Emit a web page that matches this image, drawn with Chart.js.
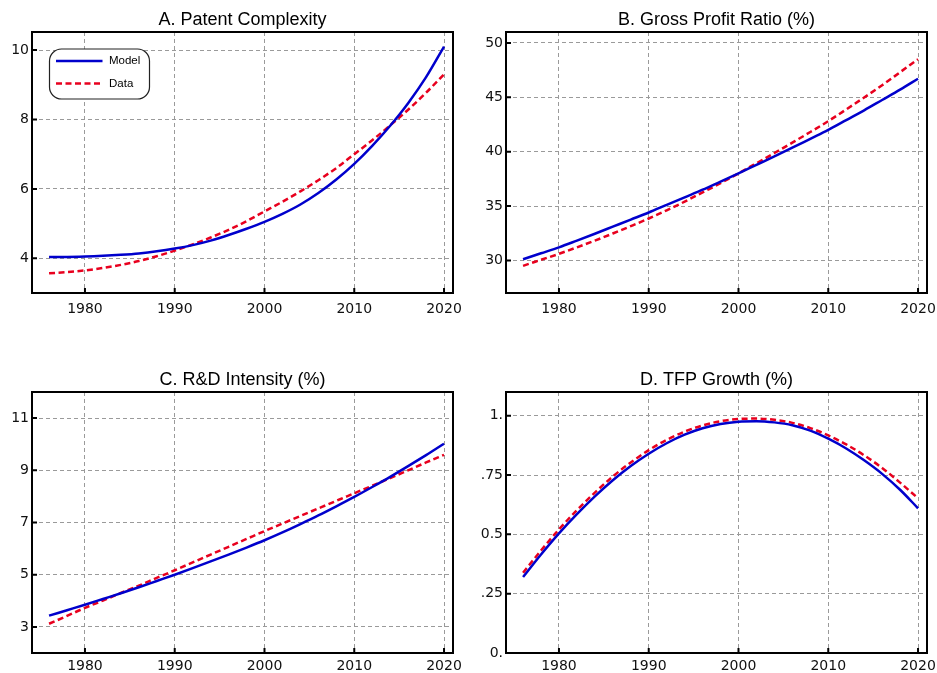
<!DOCTYPE html>
<html>
<head>
<meta charset="utf-8">
<script src="https://cdn.jsdelivr.net/npm/chart.js@4.4.1/dist/chart.umd.min.js"></script>
<style>
  html, body { margin: 0; padding: 0; background: #fff; }
  #wrap { position: relative; width: 937px; height: 673px; overflow: hidden; }
  canvas { position: absolute; }
</style>
</head>
<body>
<div id="wrap">
  <canvas id="cA" width="470" height="330" style="left:0;top:0"></canvas>
  <canvas id="cB" width="467" height="330" style="left:470px;top:0"></canvas>
  <canvas id="cC" width="470" height="313" style="left:0;top:360px"></canvas>
  <canvas id="cD" width="467" height="313" style="left:470px;top:360px"></canvas>
</div>
<script>
// ---- data ----
const years = [1976, 1978, 1980, 1982, 1984, 1986, 1988, 1990, 1992, 1994, 1996, 1998,
               2000, 2002, 2004, 2006, 2008, 2010, 2012, 2014, 2016, 2018, 2020];
const xTicks = [1980, 1990, 2000, 2010, 2020];

const patentModel = [4.04, 4.04, 4.05, 4.07, 4.10, 4.14, 4.20, 4.28, 4.38, 4.51, 4.67, 4.85,
                     5.05, 5.28, 5.55, 5.88, 6.27, 6.72, 7.24, 7.82, 8.47, 9.22, 10.1];
const patentData  = [3.57, 3.60, 3.65, 3.72, 3.81, 3.92, 4.06, 4.22, 4.40, 4.60, 4.82, 5.07,
                     5.35, 5.63, 5.93, 6.25, 6.60, 7.00, 7.40, 7.83, 8.28, 8.77, 9.30];

const profitModel = [30.1, 30.65, 31.2, 31.82, 32.45, 33.1, 33.75, 34.4, 35.1, 35.8, 36.5, 37.25,
                     38.0, 38.78, 39.56, 40.36, 41.18, 42.0, 42.9, 43.8, 44.75, 45.7, 46.7];
const profitData  = [29.5, 30.05, 30.6, 31.2, 31.82, 32.47, 33.15, 33.85, 34.6, 35.4, 36.25, 37.1,
                     38.0, 38.93, 39.87, 40.83, 41.8, 42.8, 43.88, 44.98, 46.1, 47.3, 48.5];

const rdModel = [3.43, 3.64, 3.85, 4.07, 4.29, 4.52, 4.76, 5.0, 5.25, 5.51, 5.77, 6.04,
                 6.32, 6.62, 6.94, 7.27, 7.62, 7.98, 8.36, 8.75, 9.16, 9.58, 10.02];
const rdData  = [3.12, 3.42, 3.73, 4.01, 4.30, 4.58, 4.88, 5.17, 5.47, 5.77, 6.07, 6.37,
                 6.67, 6.96, 7.25, 7.54, 7.83, 8.12, 8.41, 8.70, 9.00, 9.30, 9.59];

const tfpModel = [0.320, 0.415, 0.504, 0.585, 0.660, 0.728, 0.788, 0.840, 0.884, 0.920, 0.947, 0.965,
                  0.975, 0.977, 0.972, 0.960, 0.937, 0.903, 0.862, 0.812, 0.755, 0.688, 0.610];
const tfpData  = [0.338, 0.432, 0.521, 0.602, 0.676, 0.744, 0.803, 0.855, 0.898, 0.933, 0.959, 0.977,
                  0.986, 0.988, 0.983, 0.970, 0.948, 0.917, 0.879, 0.833, 0.780, 0.718, 0.652];

const yTicksA = [4, 6, 8, 10];
const yLabelsA = ['4', '6', '8', '10'];
const yTicksB = [30, 35, 40, 45, 50];
const yLabelsB = ['30', '35', '40', '45', '50'];
const yTicksC = [3, 5, 7, 9, 11];
const yLabelsC = ['3', '5', '7', '9', '11'];
const yTicksD = [0, 0.25, 0.5, 0.75, 1];
const yLabelsD = ['0.', '.25', '0.5', '.75', '1.'];

const BLUE = '#0000cc';
const RED = '#e8001e';

// titles, frame, inward ticks and the boxed legend
const panelDeco = {
    id: 'panelDeco',
    afterDraw(chart, args, opts) {
        const { ctx, chartArea: a, scales: { x, y } } = chart;
        ctx.save();

        ctx.strokeStyle = '#000';
        ctx.lineWidth = 2;
        ctx.beginPath();
        x.ticks.forEach(t => {
            const px = x.getPixelForValue(t.value);
            ctx.moveTo(px, a.bottom);
            ctx.lineTo(px, a.bottom - 5);
        });
        y.ticks.forEach(t => {
            const py = y.getPixelForValue(t.value);
            ctx.moveTo(a.left, py);
            ctx.lineTo(a.left + 5, py);
        });
        ctx.stroke();
        ctx.strokeRect(a.left, a.top, a.right - a.left, a.bottom - a.top);

        ctx.fillStyle = '#000';
        ctx.font = '18px "Liberation Sans", Arial, sans-serif';
        ctx.textAlign = 'center';
        ctx.textBaseline = 'middle';
        ctx.fillText(opts.title, (a.left + a.right) / 2, a.top - 11.5);

        if (opts.legend) {
            const bx = a.left + 17.5, by = a.top + 17, bw = 100, bh = 50, r = 12;
            ctx.beginPath();
            ctx.moveTo(bx + r, by);
            ctx.arcTo(bx + bw, by, bx + bw, by + bh, r);
            ctx.arcTo(bx + bw, by + bh, bx, by + bh, r);
            ctx.arcTo(bx, by + bh, bx, by, r);
            ctx.arcTo(bx, by, bx + bw, by, r);
            ctx.closePath();
            ctx.fillStyle = '#fff';
            ctx.fill();
            ctx.lineWidth = 1.2;
            ctx.strokeStyle = '#222';
            ctx.stroke();

            chart.data.datasets.forEach((ds, i) => {
                const ly = by + 12 + i * 22.5;
                ctx.beginPath();
                ctx.strokeStyle = ds.borderColor;
                ctx.lineWidth = ds.borderWidth;
                ctx.setLineDash(ds.borderDash || []);
                ctx.moveTo(bx + 6.5, ly);
                ctx.lineTo(bx + 53, ly);
                ctx.stroke();
                ctx.setLineDash([]);
                ctx.fillStyle = '#000';
                ctx.font = '11.5px "Liberation Sans", Arial, sans-serif';
                ctx.textAlign = 'left';
                ctx.fillText(ds.label, bx + 59.5, ly);
            });
        }
        ctx.restore();
    }
};

function makePanel(id, cfg) {
    const canvas = document.getElementById(id);
    const W = canvas.width, H = canvas.height;
    const area = cfg.area;
    return new Chart(canvas, {
        type: 'line',
        data: {
            labels: years,
            datasets: [
                {
                    label: 'Model',
                    data: years.map((yr, i) => ({ x: yr, y: cfg.model[i] })),
                    borderColor: BLUE,
                    borderWidth: 2.5,
                    pointRadius: 0,
                    cubicInterpolationMode: 'monotone'
                },
                {
                    label: 'Data',
                    data: years.map((yr, i) => ({ x: yr, y: cfg.data[i] })),
                    borderColor: RED,
                    borderWidth: 2.5,
                    borderDash: [6, 3.5],
                    pointRadius: 0,
                    cubicInterpolationMode: 'monotone'
                }
            ]
        },
        options: {
            responsive: false,
            animation: false,
            devicePixelRatio: 1,
            layout: { padding: { left: 0, top: area.top, right: W - area.right, bottom: 0 } },
            plugins: {
                legend: { display: false },
                tooltip: { enabled: false },
                panelDeco: { title: cfg.title, legend: cfg.legend }
            },
            scales: {
                x: {
                    type: 'linear',
                    min: 1974.1,
                    max: 2021,
                    afterBuildTicks: s => { s.ticks = xTicks.map(v => ({ value: v })); },
                    afterFit: s => {
                        s.height = H - area.bottom;
                        s.paddingLeft = 0;
                        s.paddingRight = 0;
                    },
                    grid: { color: '#9a9a9a', lineWidth: 1, drawTicks: false },
                    border: { display: false, dash: [4, 3] },
                    ticks: {
                        color: '#111',
                        padding: cfg.xPad,
                        maxRotation: 0,
                        autoSkip: false,
                        font: { family: 'DejaVu Sans', size: 14 },
                        callback: (v, i) => String(xTicks[i])
                    }
                },
                y: {
                    type: 'linear',
                    min: cfg.yMin,
                    max: cfg.yMax,
                    afterBuildTicks: s => { s.ticks = cfg.yTicks.map(v => ({ value: v })); },
                    afterFit: s => {
                        s.width = area.left;
                        s.paddingTop = 0;
                        s.paddingBottom = 0;
                    },
                    grid: { color: '#9a9a9a', lineWidth: 1, drawTicks: false },
                    border: { display: false, dash: [4, 3] },
                    ticks: {
                        color: '#111',
                        padding: 3,
                        autoSkip: false,
                        font: { family: 'DejaVu Sans', size: 14 },
                        callback: (v, i) => cfg.yLabels[i]
                    }
                }
            }
        },
        plugins: [panelDeco]
    });
}

makePanel('cA', {
    title: 'A. Patent Complexity', legend: true,
    model: patentModel, data: patentData,
    yMin: 3, yMax: 10.52, yTicks: yTicksA, yLabels: yLabelsA,
    area: { left: 32, top: 32, right: 453, bottom: 293 }, xPad: 8
});
makePanel('cB', {
    title: 'B. Gross Profit Ratio (%)', legend: false,
    model: profitModel, data: profitData,
    yMin: 27, yMax: 51, yTicks: yTicksB, yLabels: yLabelsB,
    area: { left: 36, top: 32, right: 457, bottom: 293 }, xPad: 8
});
makePanel('cC', {
    title: 'C. R&D Intensity (%)', legend: false,
    model: rdModel, data: rdData,
    yMin: 2, yMax: 12, yTicks: yTicksC, yLabels: yLabelsC,
    area: { left: 32, top: 32, right: 453, bottom: 293 }, xPad: 5
});
makePanel('cD', {
    title: 'D. TFP Growth (%)', legend: false,
    model: tfpModel, data: tfpData,
    yMin: 0, yMax: 1.1, yTicks: yTicksD, yLabels: yLabelsD,
    area: { left: 36, top: 32, right: 457, bottom: 293 }, xPad: 5
});
</script>
</body>
</html>
